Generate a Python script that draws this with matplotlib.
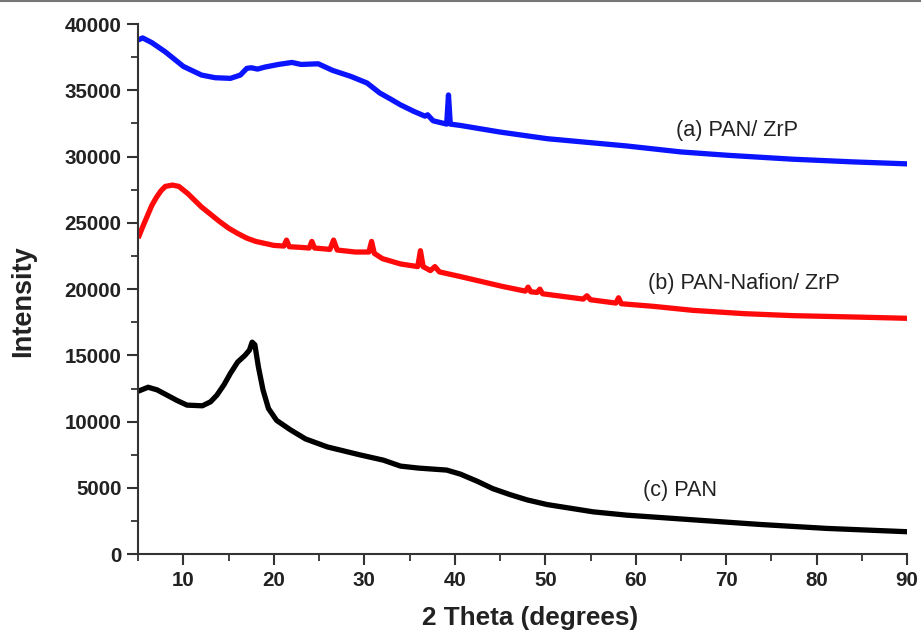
import matplotlib.pyplot as plt
from matplotlib.lines import Line2D
from matplotlib.ticker import MultipleLocator

plt.rcParams["font.family"] = ["Liberation Sans", "DejaVu Sans"]

# (a) PAN/ ZrP - blue
theta_a = [5, 5.5, 6.5, 8, 10, 12, 13.5, 15.2, 16.3, 17.0, 17.5, 18.2, 19, 20.5, 22, 23,
           24.9, 26.5, 28.5, 30.3, 31.7, 33, 34, 35.5, 36.7, 37.0, 37.6, 39.1, 39.3,
           39.5, 40.6, 45, 50.2, 55, 59, 65, 70.1, 77.4, 84, 90]
inten_a = [38800, 38950, 38600, 37900, 36800, 36150, 35950, 35900, 36150, 36650, 36700,
           36600, 36750, 36950, 37100, 36950, 37000, 36500, 36050, 35550, 34800,
           34300, 33900, 33400, 33050, 33150, 32700, 32450, 34650, 32450, 32350,
           31850, 31350, 31050, 30800, 30350, 30100, 29800, 29600, 29450]

# (b) PAN-Nafion/ ZrP - red
theta_b = [5, 5.5, 6, 6.5, 7, 7.5, 8, 8.8, 9.5, 10.5, 12, 14, 15, 16, 17, 18, 20, 21.1,
           21.4, 21.7, 23, 23.9, 24.2, 24.5, 26.2, 26.6, 27.0, 29, 30.5, 30.8, 31.1,
           32, 34, 35.9, 36.2, 36.5, 37.3, 37.8, 38.3, 40.6, 45.3, 47.8, 48.1, 48.4,
           49.1, 49.4, 49.7, 54.2, 54.6, 55.0, 57.8, 58.1, 58.4, 62, 66.3, 72, 77.4,
           84, 90]
inten_b = [23850, 24700, 25500, 26300, 26900, 27400, 27750, 27850, 27750, 27200, 26200,
           25100, 24600, 24200, 23850, 23600, 23300, 23250, 23700, 23200, 23150,
           23100, 23600, 23100, 23000, 23700, 22950, 22800, 22800, 23600, 22700,
           22300, 21900, 21700, 22900, 21700, 21400, 21700, 21300, 20950, 20200,
           19850, 20150, 19800, 19750, 20000, 19650, 19250, 19500, 19200, 18950,
           19350, 18900, 18700, 18400, 18150, 18000, 17900, 17800]

# (c) PAN - black
theta_c = [5, 6.1, 7.1, 8.2, 9.3, 10.4, 12.1, 13.0, 13.7, 14.5, 15.2, 16.0, 16.8, 17.3,
           17.6, 17.9, 18.3, 18.8, 19.4, 20.3, 21.8, 23.5, 25.9, 29.5, 32.1, 34, 36,
           39.1, 40.6, 42.5, 44.2, 46.1, 48, 50.2, 55.3, 59, 66.3, 73.7, 81.1, 90]
inten_c = [12300, 12600, 12400, 12000, 11600, 11250, 11200, 11500, 12000, 12800, 13650,
           14500, 15000, 15400, 16000, 15800, 14100, 12400, 11000, 10100, 9400,
           8700, 8100, 7500, 7100, 6650, 6500, 6350, 6050, 5500, 4950, 4500, 4100,
           3750, 3200, 2950, 2600, 2250, 1950, 1700]

series = [
    (theta_a, inten_a, "#0a14ff", "(a) PAN/ ZrP", 71.2, 32000),
    (theta_b, inten_b, "#ff0a0a", "(b) PAN-Nafion/ ZrP", 71.9, 20400),
    (theta_c, inten_c, "black", "(c) PAN", 64.9, 4800),
]

fig = plt.figure(figsize=(9.21, 6.32), dpi=100)
ax = fig.add_axes([0.150, 0.123, 0.835, 0.839])

for x, y, color, label, tx, ty in series:
    ax.plot(x, y, color=color, linewidth=3.8, solid_joinstyle="round",
            solid_capstyle="butt")
    ax.text(tx, ty, label, fontsize=15.6, ha="center", va="center", color="#222222")

ax.set_xlim(5, 90)
ax.set_ylim(0, 40000)
ax.xaxis.set_major_locator(MultipleLocator(10))
ax.xaxis.set_minor_locator(MultipleLocator(5))
ax.yaxis.set_major_locator(MultipleLocator(5000))
ax.yaxis.set_minor_locator(MultipleLocator(2500))

for side in ["top", "right"]:
    ax.spines[side].set_visible(False)
for side in ["left", "bottom"]:
    ax.spines[side].set_linewidth(1.5)
    ax.spines[side].set_color("#333333")

ax.tick_params(which="major", direction="out", length=8, width=1.5, color="#333333",
               labelsize=14.8, pad=4)
ax.tick_params(which="minor", direction="out", length=5, width=1.3, color="#333333")
for lbl in ax.get_xticklabels() + ax.get_yticklabels():
    lbl.set_fontweight("bold")
    lbl.set_color("#222222")

ax.set_xlabel("2 Theta (degrees)", fontsize=18.8, fontweight="bold", color="#222222")
ax.xaxis.set_label_coords(0.51, -0.098)

# y label placed a little below the axis centre, as in the original
fig.text(23 / 921, 1 - 301 / 632, "Intensity", fontsize=19.5, fontweight="bold",
         color="#222222", rotation=90, ha="center", va="center")

# thin border line along the top of the image
fig.add_artist(Line2D([0, 1], [0.998, 0.998], color="#777777", linewidth=1.5,
                      transform=fig.transFigure))

fig.savefig("out.png", dpi=100)
